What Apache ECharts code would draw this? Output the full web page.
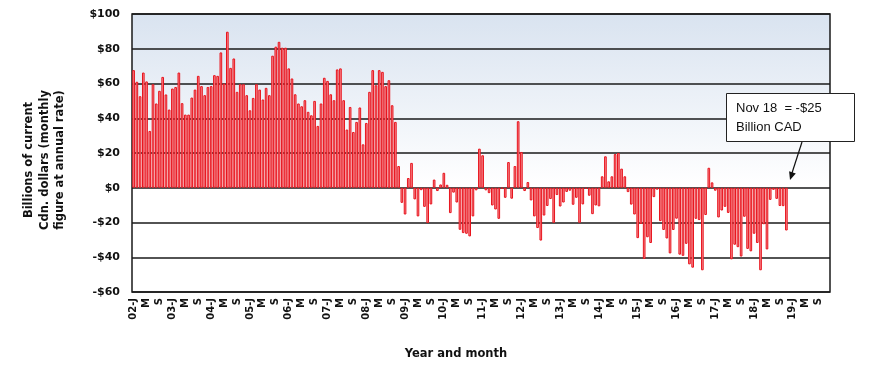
<!DOCTYPE html>
<html>
<head>
<meta charset="utf-8">
<script src="https://cdn.jsdelivr.net/npm/echarts@6/dist/echarts.min.js"></script>
<style>
html,body{margin:0;padding:0;background:#fff;}
#chart{width:870px;height:376px;}
</style>
</head>
<body>
<div id="chart"></div>
<script>
// ---- data ----
const years = [2002,2003,2004,2005,2006,2007,2008,2009,2010,2011,2012,2013,2014,2015,2016,2017,2018,2019];
const monthLetters = ['J','','','','M','','','','S','','',''];
// Monthly balance, Jan 2002 .. Nov 2018 (billions CAD, annual rate)
const values = [
  67.7,61,52.7,66.3,61.2,32.7,59.6,48.5,55.8,63.8,53.7,45,
  57.1,58,66.3,48.7,42.1,42.1,51.9,56.5,64.4,58.5,53.3,58,
  58.5,64.8,64.4,77.9,60,89.8,69,74.4,55.2,59.6,59.6,53.3,
  44.6,51.7,59.6,56.5,50.8,57.5,53.3,76,81.2,84,80.6,80.6,
  68.7,62.9,53.8,48.5,46.9,50.4,43.7,41.7,50,35.6,48.5,63.3,
  61.5,53.8,50.4,68.1,68.7,50.4,33.5,46.5,32.1,37.9,46.2,25,
  37.3,55.2,67.7,59,67.7,66.7,58.5,61.9,47.5,37.9,12.5,-8.7,
  -15.4,5.6,14.3,-6.7,-16.5,-1.4,-11,-20.3,-9.6,4.7,-1.9,1.9,
  8.6,1.7,-14.6,-2.8,-8.5,-24.2,-26.1,-26.5,-28,-16.5,-1.5,22.5,
  18.7,-1.5,-3.1,-10.2,-12.5,-17.9,-0.5,-5.8,14.8,-6.3,12.5,38.3,
  20.6,-1.9,3.3,-7.3,-16.5,-23.2,-30.4,-16,-10.5,-6.5,-20.2,-4.2,
  -10.8,-8.5,-2.4,-1.7,-9.8,-5.8,-20.2,-9.6,-0.6,-4.6,-15.2,-10.2,
  -10.7,6.6,18.1,3.7,6.6,19.4,20,11,6.6,-2.5,-9.7,-15.4,
  -29,-20.8,-41,-28.5,-31.8,-5.4,-1.1,-19.2,-24.3,-29.2,-37.8,-24.3,
  -17.8,-38.5,-39.2,-32.3,-44.1,-46,-17.9,-18.6,-47.5,-15.7,11.5,3.1,
  -1.7,-17.1,-13.1,-11,-14.5,-41.2,-32.8,-34.2,-39.6,-16.7,-35.2,-36.6,
  -26.5,-31.8,-47.5,-21,-35.5,-7,-1.2,-6.4,-10.5,-10.6,-24.6
];
const yMin = -60, yMax = 100, yStep = 20;
const yTitle = 'Billions of current\nCdn. dollars (monthly\nfigure at annual rate)';
const xTitle = 'Year and month';
const noteText = 'Nov 18  = -$25\nBillion CAD';

// categories: every month of every year
const categories = [];
years.forEach(y => { for (let m = 0; m < 12; m++) categories.push(y + '-' + (m + 1)); });

function catLabel(idx) {
  const y = years[Math.floor(idx / 12)], m = idx % 12;
  if (m === 0) return String(y).slice(2) + '-J';
  return monthLetters[m];
}

const chart = echarts.init(document.getElementById('chart'));
const labelFont = 'DejaVu Sans';
chart.setOption({
  animation: false,
  grid: {
    left: 132, right: 40, top: 14, bottom: 84,
    show: true,
    borderColor: '#1a1a1a', borderWidth: 1.5,
    backgroundColor: new echarts.graphic.LinearGradient(0, 0, 0, 1, [
      {offset: 0, color: '#d9e3f0'},
      {offset: 0.62, color: '#ffffff'},
      {offset: 1, color: '#ffffff'}
    ])
  },
  xAxis: {
    type: 'category',
    data: categories,
    boundaryGap: true,
    axisLine: {show: false, onZero: false},
    axisTick: {show: false},
    splitLine: {show: false},
    axisLabel: {
      interval: (idx) => idx % 4 === 0,
      rotate: 90,
      margin: 6,
      fontFamily: labelFont, fontWeight: 'bold', fontSize: 10, color: '#111',
      formatter: (val, idx) => catLabel(idx)
    }
  },
  yAxis: {
    type: 'value',
    min: yMin, max: yMax, interval: yStep,
    axisLine: {show: false},
    axisTick: {show: false},
    splitLine: {show: true, lineStyle: {color: '#1a1a1a', width: 1.5}},
    axisLabel: {
      margin: 12,
      fontFamily: labelFont, fontWeight: 'bold', fontSize: 11, color: '#111',
      formatter: v => (v < 0 ? '-$' : '$') + Math.abs(v)
    }
  },
  series: [{
    type: 'bar',
    data: values,
    barCategoryGap: '18%',
    itemStyle: {color: '#f78f95', borderColor: '#e8141d', borderWidth: 1}
  }],
  graphic: [
    {
      type: 'text', x: 45, y: 160, rotation: Math.PI / 2,
      style: {text: yTitle, fontFamily: labelFont, fontWeight: 'bold', fontSize: 11.5,
        lineHeight: 15.5, fill: '#111', textAlign: 'center', textVerticalAlign: 'middle'}
    },
    {
      type: 'text', x: 456, y: 354,
      style: {text: xTitle, fontFamily: labelFont, fontWeight: 'bold', fontSize: 11.5,
        fill: '#111', textAlign: 'center', textVerticalAlign: 'middle'}
    },
    {
      type: 'rect', shape: {x: 726.5, y: 93.5, width: 128, height: 48},
      style: {fill: '#ffffff', stroke: '#222', lineWidth: 1}, z: 100
    },
    {
      type: 'text', x: 736, y: 99, z: 101,
      style: {text: noteText, fontFamily: 'Liberation Sans', fontSize: 13, lineHeight: 19, fill: '#111'}
    },
    {
      type: 'line', shape: {x1: 802, y1: 142, x2: 792, y2: 173}, z: 101,
      style: {stroke: '#111', lineWidth: 1.2}
    },
    {
      type: 'polygon', shape: {points: [[790, 180], [795.8, 173.5], [789.1, 171.3]]}, z: 101,
      style: {fill: '#111'}
    }
  ]
});
</script>
</body>
</html>
